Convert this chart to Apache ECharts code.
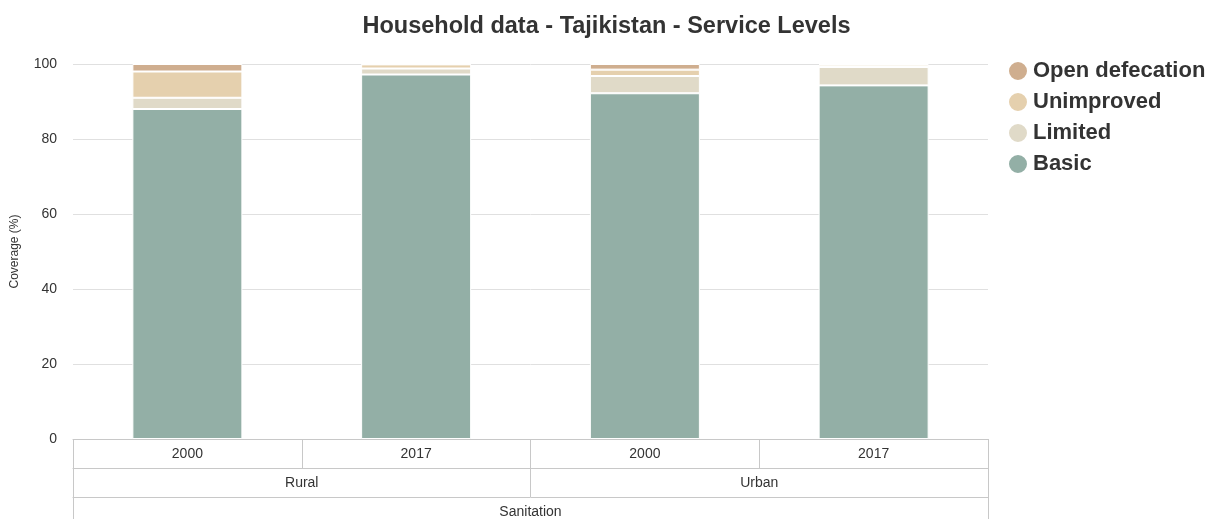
<!DOCTYPE html>
<html>
<head>
<meta charset="utf-8">
<script src="https://cdn.jsdelivr.net/npm/echarts@6/dist/echarts.min.js"></script>
<style>
  html, body { margin: 0; padding: 0; background: #fff; }
  #chart { width: 1213px; height: 519px; }
</style>
</head>
<body>
<div id="chart"></div>
<script>
// categories (three levels of the grouped axis)
const years = ["2000", "2017", "2000", "2017"];
const areas = ["Rural", "Urban"];
const services = ["Sanitation"];

// coverage values (%) per bar
const basic = [88, 97.2, 92.2, 94.3];
const limited = [3, 1.6, 4.6, 4.9];
const unimproved = [7, 1.1, 1.7, 0.6];
const openDefecation = [2, 0.1, 1.5, 0.2];

const yTicks = [0, 20, 40, 60, 80, 100];

const lineColor = "#c8c8c8";
const font = "Liberation Sans, Arial, sans-serif";

function rowAxis(data, offset) {
  return {
    type: "category",
    data: data,
    position: "bottom",
    offset: offset,
    axisLine: { show: true, lineStyle: { color: lineColor, width: 1 } },
    axisTick: { show: true, interval: 0, length: 29, lineStyle: { color: lineColor } },
    axisLabel: {
      show: true,
      interval: 0,
      margin: 8,
      color: "#333",
      fontSize: 14,
      fontFamily: font
    },
    splitLine: { show: false }
  };
}

function barSeries(name, values, color) {
  return {
    name: name,
    type: "bar",
    stack: "total",
    xAxisIndex: 0,
    barWidth: 110,
    itemStyle: { color: color, borderColor: "#fff", borderWidth: 1 },
    data: values
  };
}

const myChart = echarts.init(document.getElementById("chart"));
const option = {
  animation: false,
  textStyle: { fontFamily: font },
  title: {
    text: "Household data - Tajikistan - Service Levels",
    left: "center",
    top: 10,
    textStyle: { fontSize: 23.5, fontWeight: "bold", color: "#333", fontFamily: font }
  },
  legend: {
    orient: "vertical",
    left: 1007,
    top: 60,
    padding: 0,
    icon: "circle",
    itemWidth: 20,
    itemHeight: 20,
    itemGap: 9,
    data: ["Open defecation", "Unimproved", "Limited", "Basic"],
    textStyle: { fontSize: 22, fontWeight: "bold", color: "#333", fontFamily: font, lineHeight: 20 }
  },
  grid: { left: 73, right: 225, top: 64, bottom: 79, containLabel: false },
  xAxis: [
    rowAxis(years, 0),
    rowAxis(areas, 29),
    rowAxis(services, 58)
  ],
  yAxis: {
    type: "value",
    min: yTicks[0],
    max: yTicks[yTicks.length - 1],
    interval: 20,
    name: "Coverage (%)",
    nameLocation: "middle",
    nameGap: 52,
    nameTextStyle: { fontSize: 12, color: "#333", fontFamily: font },
    axisLine: { show: false },
    axisTick: { show: false },
    axisLabel: { color: "#333", fontSize: 14, margin: 16, fontFamily: font },
    splitLine: { lineStyle: { color: "#e0e0e0" } }
  },
  series: [
    barSeries("Basic", basic, "#93afa6"),
    barSeries("Limited", limited, "#e0dac8"),
    barSeries("Unimproved", unimproved, "#e5d0ae"),
    barSeries("Open defecation", openDefecation, "#cfae8f")
  ]
};
myChart.setOption(option);
window.addEventListener("resize", () => myChart.resize());
</script>
</body>
</html>
